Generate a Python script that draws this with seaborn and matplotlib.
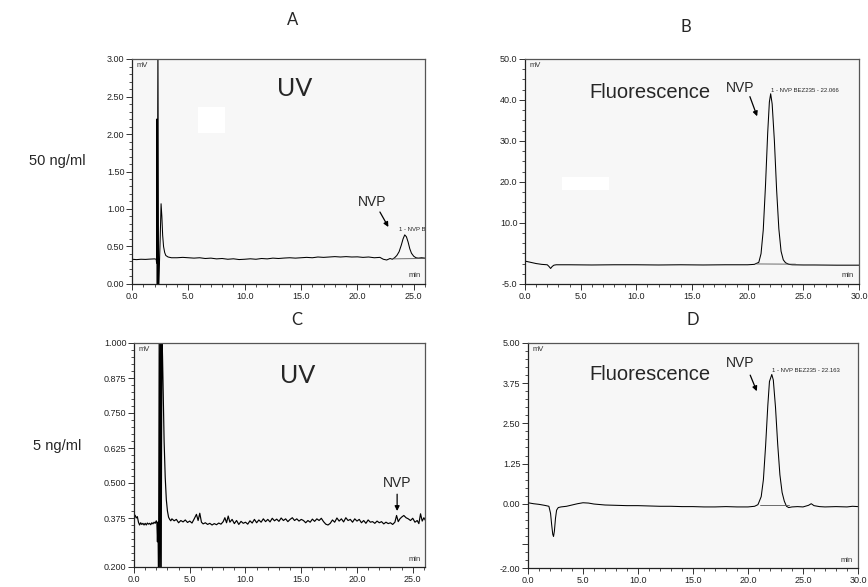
import matplotlib
matplotlib.use("Agg")
import matplotlib.pyplot as plt
from matplotlib.ticker import FixedLocator, MultipleLocator, FormatStrFormatter
from matplotlib.patches import Rectangle
import seaborn as sns

# ---------------- chromatogram traces (time in min, signal in mV) ----------------
# A: UV detector, 50 ng/ml
uv50_time = [0.0, 0.4, 0.8, 1.2, 1.6, 2.0, 2.15, 2.18, 2.2, 2.24, 2.3, 2.36, 2.42, 2.5,
             2.58, 2.65, 2.72, 2.8, 2.9, 3.0, 3.2, 3.5, 4.0, 4.5, 5.0, 5.5, 6.0, 6.5, 7.0,
             7.5, 8.0, 8.5, 9.0, 9.5, 10.0, 10.5, 11.0, 11.5, 12.0, 12.5, 13.0, 13.5, 14.0,
             14.5, 15.0, 15.5, 16.0, 16.5, 17.0, 17.5, 18.0, 18.5, 19.0, 19.5, 20.0, 20.5,
             21.0, 21.5, 22.0, 22.3, 22.6, 22.9, 23.1, 23.3, 23.5, 23.7, 23.9, 24.05, 24.2,
             24.35, 24.5, 24.65, 24.8, 25.0, 25.2, 25.4, 25.7, 26.0]
uv50_signal = [0.33, 0.325, 0.33, 0.328, 0.332, 0.335, 0.33, 0.28, 2.2, -0.1, 3.3, -0.1, 0.2, 0.6,
               1.07, 0.9, 0.65, 0.5, 0.42, 0.38, 0.36, 0.35, 0.35, 0.355, 0.35, 0.345, 0.35,
               0.34, 0.345, 0.335, 0.34, 0.33, 0.336, 0.326, 0.33, 0.336, 0.33, 0.34, 0.335,
               0.345, 0.34, 0.346, 0.35, 0.345, 0.35, 0.355, 0.35, 0.36, 0.355, 0.36, 0.365,
               0.36, 0.365, 0.36, 0.362, 0.355, 0.36, 0.35, 0.355, 0.33, 0.32, 0.34, 0.33, 0.35,
               0.38, 0.43, 0.52, 0.60, 0.655, 0.63, 0.56, 0.47, 0.41, 0.37, 0.35, 0.345, 0.35,
               0.345]
uv50_base_time = [23.2, 26.0]
uv50_base_signal = [0.335, 0.34]

# B: fluorescence detector, 50 ng/ml
fl50_time = [0.0, 0.5, 1.0, 1.5, 2.0, 2.15, 2.3, 2.45, 2.6, 2.8, 3.0, 4.0, 6.0, 8.0, 10.0, 12.0,
             14.0, 16.0, 18.0, 20.0, 20.6, 21.0, 21.2, 21.4, 21.6, 21.8, 21.95, 22.066, 22.2,
             22.4, 22.6, 22.8, 23.0, 23.2, 23.4, 23.7, 24.0, 25.0, 26.0, 28.0, 30.0]
fl50_signal = [0.6, 0.3, 0.0, -0.2, -0.3, -0.7, -1.2, -0.7, -0.4, -0.3, -0.3, -0.3, -0.35, -0.3,
               -0.3, -0.35, -0.3, -0.35, -0.3, -0.3, -0.2, 0.3, 2.4, 8.2, 19.0, 32.0, 39.5,
               41.5, 39.0, 30.0, 18.0, 8.5, 3.0, 0.9, 0.2, -0.2, -0.3, -0.35, -0.35, -0.4, -0.4]
fl50_base_time = [20.8, 24.3]
fl50_base_signal = [-0.1, -0.15]

# C: UV detector, 5 ng/ml
uv5_time = [0.0, 0.1, 0.2, 0.3, 0.4, 0.5, 0.6, 0.7, 0.8, 0.9, 1.0, 1.1, 1.2, 1.3, 1.4, 1.5, 1.6,
            1.7, 1.8, 1.9, 2.0, 2.05, 2.1, 2.15, 2.2, 2.26, 2.32, 2.38, 2.44, 2.5, 2.56, 2.62,
            2.7, 2.8, 2.9, 3.0, 3.1, 3.2, 3.3, 3.4, 3.6, 3.8, 4.0, 4.2, 4.4, 4.6, 4.8, 5.0,
            5.2, 5.4, 5.6, 5.75, 5.9, 6.05, 6.2, 6.4, 6.6, 6.8, 7.0, 7.2, 7.4, 7.6, 7.8, 8.0,
            8.15, 8.3, 8.45, 8.6, 8.8, 9.0, 9.2, 9.4, 9.6, 9.8, 10.0, 10.2, 10.4, 10.6, 10.8,
            11.0, 11.2, 11.4, 11.6, 11.8, 12.0, 12.2, 12.4, 12.6, 12.8, 13.0, 13.2, 13.4, 13.6,
            13.8, 14.0, 14.2, 14.4, 14.6, 14.8, 15.0, 15.2, 15.4, 15.6, 15.8, 16.0, 16.2, 16.4,
            16.6, 16.8, 17.0, 17.2, 17.4, 17.6, 17.8, 18.0, 18.2, 18.4, 18.6, 18.8, 19.0, 19.2,
            19.4, 19.6, 19.8, 20.0, 20.2, 20.4, 20.6, 20.8, 21.0, 21.2, 21.4, 21.6, 21.8, 22.0,
            22.2, 22.4, 22.6, 22.8, 23.0, 23.2, 23.4, 23.55, 23.7, 23.85, 24.0, 24.2, 24.4,
            24.6, 24.8, 25.0, 25.2, 25.4, 25.55, 25.7, 25.85, 26.0, 26.2]
uv5_signal = [0.38, 0.385, 0.375, 0.38, 0.36, 0.35, 0.358, 0.352, 0.356, 0.35, 0.356, 0.35,
              0.357, 0.353, 0.356, 0.351, 0.358, 0.354, 0.36, 0.356, 0.365, 0.36, 0.29, 0.36,
              0.15, 1.05, 0.15, 1.05, 0.15, 1.05, 0.95, 0.82, 0.65, 0.52, 0.44, 0.40, 0.378,
              0.37, 0.365, 0.372, 0.365, 0.37, 0.358, 0.366, 0.361, 0.368, 0.359, 0.364, 0.357,
              0.372, 0.388, 0.366, 0.392, 0.36, 0.354, 0.358, 0.352, 0.356, 0.35, 0.355, 0.351,
              0.357, 0.353, 0.362, 0.376, 0.358, 0.382, 0.36, 0.37, 0.355, 0.366, 0.352, 0.363,
              0.356, 0.36, 0.353, 0.365, 0.357, 0.37, 0.358, 0.368, 0.36, 0.372, 0.362, 0.37,
              0.361, 0.374, 0.365, 0.371, 0.363, 0.375, 0.366, 0.372, 0.362, 0.37, 0.376, 0.366,
              0.372, 0.364, 0.37, 0.366, 0.358, 0.366, 0.36, 0.371, 0.363, 0.372, 0.366, 0.374,
              0.362, 0.353, 0.35, 0.356, 0.368, 0.36, 0.375, 0.364, 0.372, 0.361, 0.376, 0.366,
              0.37, 0.36, 0.372, 0.364, 0.37, 0.358, 0.366, 0.356, 0.368, 0.36, 0.362, 0.356,
              0.364, 0.358, 0.362, 0.354, 0.36, 0.355, 0.358, 0.352, 0.36, 0.384, 0.362, 0.372,
              0.378, 0.384, 0.376, 0.372, 0.366, 0.374, 0.36, 0.366, 0.355, 0.39, 0.364, 0.376,
              0.362]

# D: fluorescence detector, 5 ng/ml
fl5_time = [0.0, 0.5, 1.0, 1.5, 1.9, 2.05, 2.15, 2.25, 2.32, 2.4, 2.5, 2.6, 2.75, 3.0, 3.5, 4.0,
            4.5, 5.0, 5.5, 6.0, 7.0, 8.0, 9.0, 10.0, 11.0, 12.0, 13.0, 14.0, 15.0, 16.0, 17.0,
            18.0, 19.0, 20.0, 20.6, 20.9, 21.0, 21.2, 21.4, 21.6, 21.8, 21.95, 22.163, 22.3,
            22.5, 22.7, 22.9, 23.1, 23.3, 23.5, 23.7, 24.0, 24.5, 25.0, 25.5, 25.75, 26.0,
            26.5, 27.0, 28.0, 29.0, 29.5, 30.0]
fl5_signal = [0.03, 0.0, -0.02, -0.05, -0.08, -0.3, -0.65, -0.95, -1.02, -0.85, -0.45, -0.2,
              -0.12, -0.1, -0.08, -0.04, 0.0, 0.03, 0.02, -0.01, -0.04, -0.05, -0.06, -0.06,
              -0.07, -0.08, -0.08, -0.09, -0.09, -0.1, -0.1, -0.09, -0.1, -0.1, -0.08, -0.03,
              0.05, 0.22, 0.75, 1.8, 3.05, 3.8, 4.02, 3.85, 3.0, 1.85, 0.9, 0.35, 0.08, -0.08,
              -0.12, -0.1, -0.09, -0.1, -0.05, 0.0, -0.06, -0.09, -0.1, -0.09, -0.1, -0.08,
              -0.09]
fl5_base_time = [21.1, 23.7]
fl5_base_signal = [-0.05, -0.05]

# tick values
uv50_yticks = [0.0, 0.5, 1.0, 1.5, 2.0, 2.5, 3.0]
fl50_yticks = [-5.0, 10.0, 20.0, 30.0, 40.0, 50.0]
uv5_yticks = [0.2, 0.375, 0.5, 0.625, 0.75, 0.875, 1.0]
fl5_yticks = [-2.0, -1.25, 0.0, 1.25, 2.5, 3.75, 5.0]
fl5_ylabels = ["-2.00", "", "0.00", "1.25", "2.50", "3.75", "5.00"]
time_ticks = [0.0, 5.0, 10.0, 15.0, 20.0, 25.0, 30.0]

panel_letters = ["A", "B", "C", "D"]
row_labels = ["50 ng/ml", "5 ng/ml"]
peak_labels = ["1 - NVP BEZ235 - 24.2", "1 - NVP BEZ235 - 22.066", "1 - NVP BEZ235 - 22.163"]

# ---------------- figure ----------------
sns.set_style("ticks")
plt.rcParams["font.family"] = ["Liberation Sans", "DejaVu Sans"]

W, H = 868, 587
fig = plt.figure(figsize=(W / 100, H / 100), dpi=100)
fig.patch.set_facecolor("white")


def px_axes(left, top, right, bottom):
    return fig.add_axes([left / W, 1 - bottom / H, (right - left) / W, (bottom - top) / H])


axA = px_axes(132, 59, 425, 284)
axB = px_axes(525, 59, 859, 284)
axC = px_axes(134, 343, 425, 567)
axD = px_axes(528, 343, 858, 568)

tick_color = "#333333"


def style(ax, xmax, ylim, yticks, yfmt, ylabels=None, ymin_step=None):
    ax.set_facecolor("#f7f7f7")
    ax.set_xlim(0, xmax)
    ax.set_ylim(*ylim)
    ax.xaxis.set_major_locator(FixedLocator(time_ticks))
    ax.xaxis.set_major_formatter(FormatStrFormatter("%.1f"))
    ax.xaxis.set_minor_locator(MultipleLocator(1.0))
    ax.yaxis.set_major_locator(FixedLocator(yticks))
    if ylabels is not None:
        ax.set_yticklabels(ylabels)
    else:
        ax.yaxis.set_major_formatter(FormatStrFormatter(yfmt))
    if ymin_step:
        ax.yaxis.set_minor_locator(MultipleLocator(ymin_step))
    ax.tick_params(which="major", length=4, width=0.7, color=tick_color,
                   labelsize=6.5, labelcolor="#222222", pad=1.5)
    ax.tick_params(which="minor", length=2, width=0.6, color=tick_color)
    for side in ("left", "bottom"):
        ax.spines[side].set_color("#222222")
        ax.spines[side].set_linewidth(0.9)
    for side in ("top", "right"):
        ax.spines[side].set_color("#555555")
        ax.spines[side].set_linewidth(0.9)
    ax.set_xlabel("")
    ax.set_ylabel("")
    ax.text(0.015, 0.985, "mV", transform=ax.transAxes, ha="left", va="top",
            fontsize=5.5, color="#333333")
    ax.text(0.985, 0.02, "min", transform=ax.transAxes, ha="right", va="bottom",
            fontsize=5.5, color="#333333")


line_kw = dict(color="black", linewidth=0.75, sort=False, legend=False)
base_kw = dict(color="#555555", linewidth=0.6, sort=False, legend=False)

# A
sns.lineplot(x=uv50_time, y=uv50_signal, ax=axA, **line_kw)
sns.lineplot(x=uv50_base_time, y=uv50_base_signal, ax=axA, **base_kw)
style(axA, 26.0, (0, 3.0), uv50_yticks, "%.2f", ymin_step=0.1)
axA.add_patch(Rectangle((5.85, 2.01), 2.4, 0.35, facecolor="white", edgecolor="none", zorder=0.5))

# B
sns.lineplot(x=fl50_time, y=fl50_signal, ax=axB, **line_kw)
sns.lineplot(x=fl50_base_time, y=fl50_base_signal, ax=axB, **base_kw)
style(axB, 30.0, (-5.0, 50.0), fl50_yticks, "%.1f", ymin_step=2.5)
axB.add_patch(Rectangle((3.3, 18.0), 4.2, 3.2, facecolor="white", edgecolor="none", zorder=0.5))

# C
sns.lineplot(x=uv5_time, y=uv5_signal, ax=axC, **dict(line_kw, linewidth=0.85))
style(axC, 26.1, (0.2, 1.0), uv5_yticks, "%.3f", ymin_step=0.025)

# D
sns.lineplot(x=fl5_time, y=fl5_signal, ax=axD, **line_kw)
sns.lineplot(x=fl5_base_time, y=fl5_base_signal, ax=axD, **base_kw)
style(axD, 30.0, (-2.0, 5.0), fl5_yticks, "%.2f", ylabels=fl5_ylabels, ymin_step=0.25)

# detector names
axA.text(0.556, 0.871, "UV", transform=axA.transAxes, ha="center", va="center",
         fontsize=18, family=["Lato", "DejaVu Sans"])
axC.text(0.564, 0.857, "UV", transform=axC.transAxes, ha="center", va="center",
         fontsize=18, family=["Lato", "DejaVu Sans"])
axB.text(0.374, 0.853, "Fluorescence", transform=axB.transAxes, ha="center", va="center",
         fontsize=14.5)
axD.text(0.370, 0.858, "Fluorescence", transform=axD.transAxes, ha="center", va="center",
         fontsize=14.5)

# analyte markers
arrow = dict(arrowstyle="-|>", color="black", lw=0.9, mutation_scale=7, shrinkA=0, shrinkB=0)
axA.text(21.3, 1.09, "NVP", ha="center", va="center", fontsize=10)
axA.annotate("", xy=(22.75, 0.76), xytext=(22.0, 0.96), arrowprops=arrow)
axB.text(19.3, 42.9, "NVP", ha="center", va="center", fontsize=10)
axB.annotate("", xy=(20.85, 36.0), xytext=(20.2, 40.8), arrowprops=arrow)
axC.text(23.6, 0.50, "NVP", ha="center", va="center", fontsize=10)
axC.annotate("", xy=(23.6, 0.40), xytext=(23.6, 0.46), arrowprops=arrow)
axD.text(19.3, 4.38, "NVP", ha="center", va="center", fontsize=10)
axD.annotate("", xy=(20.8, 3.5), xytext=(20.2, 4.0), arrowprops=arrow)

# peak identification labels
axA.text(23.7, 0.73, peak_labels[0], fontsize=4.3, va="center", ha="left", clip_on=True)
axB.text(22.1, 42.4, peak_labels[1], fontsize=4.3, va="center", ha="left", clip_on=True)
axD.text(22.2, 4.14, peak_labels[2], fontsize=4.3, va="center", ha="left", clip_on=True)

# panel letters and concentration labels
letter_pos = [(293, 20), (686, 27), (297, 320), (693, 320)]
for letter, (px, py) in zip(panel_letters, letter_pos):
    fig.text(px / W, 1 - py / H, letter, ha="center", va="center", fontsize=12,
             family=["Lato", "DejaVu Sans"])
for label, py in zip(row_labels, [161, 446]):
    fig.text(57 / W, 1 - py / H, label, ha="center", va="center", fontsize=10.5)

fig.savefig("out.png", dpi=100, facecolor="white")
